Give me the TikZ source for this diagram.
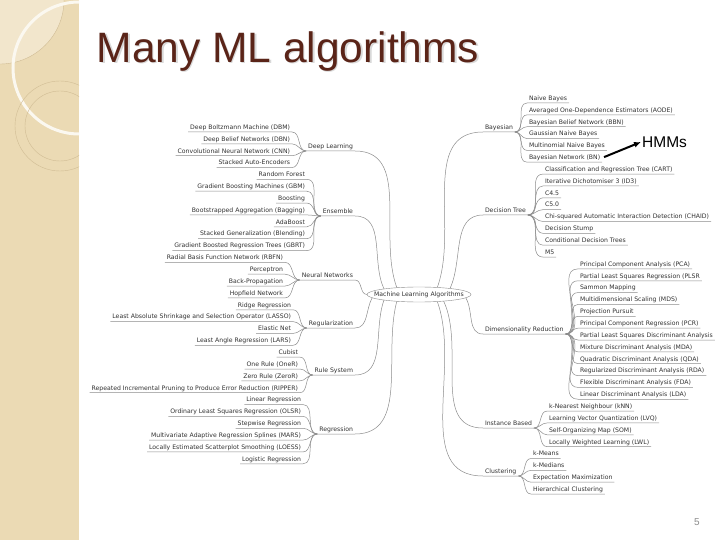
\documentclass[tikz,border=0pt]{standalone}
\usepackage{fontspec}
\setmainfont{DejaVu Sans}
\newfontfamily\slidefont{Liberation Sans}
\usetikzlibrary{arrows.meta,positioning,shapes.geometric}
\definecolor{sidebar}{RGB}{235,218,180}
\definecolor{sidelight}{RGB}{242,230,204}
\definecolor{sideline}{RGB}{208,188,148}
\definecolor{titlebrown}{RGB}{90,36,24}
\definecolor{maptext}{RGB}{50,50,50}
\definecolor{mapline}{RGB}{140,140,140}

\begin{document}
\begin{tikzpicture}[
  x=1pt,y=1pt,
  node distance=3.05pt,
  every node/.style={font=\fontsize{6.15}{7.5}\selectfont,text=maptext},
  leaf/.style={inner xsep=2pt,inner ysep=1.15pt,outer sep=0pt,text height=5pt,text depth=1.5pt},
  branch/.style={leaf},
  link/.style={draw=mapline,line width=0.5pt},
  title/.style={font=\slidefont\fontsize{42.5}{50}\selectfont,text=titlebrown,inner sep=0pt}
]
\useasboundingbox (0,0) rectangle (720,-540);
\fill[white] (0,0) rectangle (720,-540);
\fill[sidebar] (0,0) rectangle (79,-540);
\begin{scope}
  \clip (0,0) rectangle (79,-540);
  \filldraw[fill=sidelight,draw=sideline,line width=0.4pt] (0,0) circle (64);
  \draw[white!70!sidelight,line width=3pt] (79,-68) circle (66);
  \draw[sideline,line width=0.4pt] (60,-126) circle (45);
  \draw[sideline,line width=0.4pt] (60,-126) circle (35);
\end{scope}

% title
\node[title,text=black!15,anchor=base west] at (98,-64) {Many ML algorithms};
\node[title,anchor=base west] (title) at (96.5,-62.5) {Many ML algorithms};

% centre and branches
\node[draw=mapline,ellipse,minimum width=104pt,minimum height=15pt,inner sep=0pt,outer sep=0pt] (ml) at (419,-294.5) {\makebox[50pt]{Machine Learning Algorithms}};

\node[branch,anchor=south east] (dl) at (355,-151) {Deep Learning};
\node[branch,anchor=south east] (en) at (355,-216) {Ensemble};
\node[branch,anchor=south east] (nn) at (355,-280) {Neural Networks};
\node[branch,anchor=south east] (rg) at (355,-328) {Regularization};
\node[branch,anchor=south east] (rs) at (355,-375) {Rule System};
\node[branch,anchor=south east] (re) at (355,-434) {Regression};

\node[branch,anchor=south west] (ba) at (483,-132) {Bayesian};
\node[branch,anchor=south west] (dt) at (483,-215) {Decision Tree};
\node[branch,anchor=south west] (dr) at (483,-334) {Dimensionality Reduction};
\node[branch,anchor=south west] (ib) at (483,-428) {Instance Based};
\node[branch,anchor=south west] (cl) at (483,-476) {Clustering};

% left leaves
\node[leaf,anchor=south east] (dl1) at (292,-132) {Deep Boltzmann Machine (DBM)};
\node[leaf,below=of dl1.south east,anchor=north east] (dl2) {Deep Belief Networks (DBN)};
\node[leaf,below=of dl2.south east,anchor=north east] (dl3) {Convolutional Neural Network (CNN)};
\node[leaf,below=of dl3.south east,anchor=north east] (dl4) {Stacked Auto-Encoders};

\node[leaf,below=of dl4.south east,anchor=north east,xshift=15pt] (en1) {Random Forest};
\node[leaf,below=of en1.south east,anchor=north east] (en2) {Gradient Boosting Machines (GBM)};
\node[leaf,below=of en2.south east,anchor=north east] (en3) {Boosting};
\node[leaf,below=of en3.south east,anchor=north east] (en4) {Bootstrapped Aggregation (Bagging)};
\node[leaf,below=of en4.south east,anchor=north east] (en5) {AdaBoost};
\node[leaf,below=of en5.south east,anchor=north east] (en6) {Stacked Generalization (Blending)};
\node[leaf,below=of en6.south east,anchor=north east] (en7) {Gradient Boosted Regression Trees (GBRT)};

\node[leaf,below=of en7.south east,anchor=north east,xshift=-22pt] (nn1) {Radial Basis Function Network (RBFN)};
\node[leaf,below=of nn1.south east,anchor=north east] (nn2) {Perceptron};
\node[leaf,below=of nn2.south east,anchor=north east] (nn3) {Back-Propagation};
\node[leaf,below=of nn3.south east,anchor=north east] (nn4) {Hopfield Network};

\node[leaf,below=of nn4.south east,anchor=north east,xshift=8pt] (rg1) {Ridge Regression};
\node[leaf,below=of rg1.south east,anchor=north east] (rg2) {Least Absolute Shrinkage and Selection Operator (LASSO)};
\node[leaf,below=of rg2.south east,anchor=north east] (rg3) {Elastic Net};
\node[leaf,below=of rg3.south east,anchor=north east] (rg4) {Least Angle Regression (LARS)};

\node[leaf,below=of rg4.south east,anchor=north east,xshift=7pt] (rs1) {Cubist};
\node[leaf,below=of rs1.south east,anchor=north east] (rs2) {One Rule (OneR)};
\node[leaf,below=of rs2.south east,anchor=north east] (rs3) {Zero Rule (ZeroR)};
\node[leaf,below=of rs3.south east,anchor=north east] (rs4) {Repeated Incremental Pruning to Produce Error Reduction (RIPPER)};

\node[leaf,below=of rs4.south east,anchor=north east,xshift=3pt] (re1) {Linear Regression};
\node[leaf,below=of re1.south east,anchor=north east] (re2) {Ordinary Least Squares Regression (OLSR)};
\node[leaf,below=of re2.south east,anchor=north east] (re3) {Stepwise Regression};
\node[leaf,below=of re3.south east,anchor=north east] (re4) {Multivariate Adaptive Regression Splines (MARS)};
\node[leaf,below=of re4.south east,anchor=north east] (re5) {Locally Estimated Scatterplot Smoothing (LOESS)};
\node[leaf,below=of re5.south east,anchor=north east] (re6) {Logistic Regression};

% right leaves
\node[leaf,anchor=south west] (ba1) at (527,-103) {Naive Bayes};
\node[leaf,below=of ba1.south west,anchor=north west] (ba2) {Averaged One-Dependence Estimators (AODE)};
\node[leaf,below=of ba2.south west,anchor=north west] (ba3) {Bayesian Belief Network (BBN)};
\node[leaf,below=of ba3.south west,anchor=north west] (ba4) {Gaussian Naive Bayes};
\node[leaf,below=of ba4.south west,anchor=north west] (ba5) {Multinomial Naive Bayes};
\node[leaf,below=of ba5.south west,anchor=north west] (ba6) {Bayesian Network (BN)};

\node[leaf,below=of ba6.south west,anchor=north west,xshift=16pt] (dt1) {Classification and Regression Tree (CART)};
\node[leaf,below=of dt1.south west,anchor=north west] (dt2) {Iterative Dichotomiser 3 (ID3)};
\node[leaf,below=of dt2.south west,anchor=north west] (dt3) {C4.5};
\node[leaf,below=of dt3.south west,anchor=north west] (dt4) {C5.0};
\node[leaf,below=of dt4.south west,anchor=north west] (dt5) {Chi-squared Automatic Interaction Detection (CHAID)};
\node[leaf,below=of dt5.south west,anchor=north west] (dt6) {Decision Stump};
\node[leaf,below=of dt6.south west,anchor=north west] (dt7) {Conditional Decision Trees};
\node[leaf,below=of dt7.south west,anchor=north west] (dt8) {M5};

\node[leaf,below=of dt8.south west,anchor=north west,xshift=35pt] (dr1) {Principal Component Analysis (PCA)};
\node[leaf,below=of dr1.south west,anchor=north west] (dr2) {Partial Least Squares Regression (PLSR};
\node[leaf,below=of dr2.south west,anchor=north west] (dr3) {Sammon Mapping};
\node[leaf,below=of dr3.south west,anchor=north west] (dr4) {Multidimensional Scaling (MDS)};
\node[leaf,below=of dr4.south west,anchor=north west] (dr5) {Projection Pursuit};
\node[leaf,below=of dr5.south west,anchor=north west] (dr6) {Principal Component Regression (PCR)};
\node[leaf,below=of dr6.south west,anchor=north west] (dr7) {Partial Least Squares Discriminant Analysis};
\node[leaf,below=of dr7.south west,anchor=north west] (dr8) {Mixture Discriminant Analysis (MDA)};
\node[leaf,below=of dr8.south west,anchor=north west] (dr9) {Quadratic Discriminant Analysis (QDA)};
\node[leaf,below=of dr9.south west,anchor=north west] (dr10) {Regularized Discriminant Analysis (RDA)};
\node[leaf,below=of dr10.south west,anchor=north west] (dr11) {Flexible Discriminant Analysis (FDA)};
\node[leaf,below=of dr11.south west,anchor=north west] (dr12) {Linear Discriminant Analysis (LDA)};

\node[leaf,below=of dr12.south west,anchor=north west,xshift=-31pt] (ib1) {k-Nearest Neighbour (kNN)};
\node[leaf,below=of ib1.south west,anchor=north west] (ib2) {Learning Vector Quantization (LVQ)};
\node[leaf,below=of ib2.south west,anchor=north west] (ib3) {Self-Organizing Map (SOM)};
\node[leaf,below=of ib3.south west,anchor=north west] (ib4) {Locally Weighted Learning (LWL)};

\node[leaf,below=of ib4.south west,anchor=north west,xshift=-16pt] (cl1) {k-Means};
\node[leaf,below=of cl1.south west,anchor=north west] (cl2) {k-Medians};
\node[leaf,below=of cl2.south west,anchor=north west] (cl3) {Expectation Maximization};
\node[leaf,below=of cl3.south west,anchor=north west] (cl4) {Hierarchical Clustering};

% note and page number
\node[font=\slidefont\fontsize{15.5}{18}\selectfont,text=black,anchor=west,inner sep=1pt] (hmm) at (641,-142) {HMMs};
\node[font=\slidefont\fontsize{10}{12}\selectfont,text=black!45] (page) at (697,-522) {5};

% branches to centre
\draw[link] (dl.south west) -- (dl.south east) to[out=0,in=110] (ml.163);
\draw[link] (en.south west) -- (en.south east) to[out=0,in=115] (ml.171);
\draw[link] (nn.south west) -- (nn.south east) to[out=0,in=180] (ml.west);
\draw[link] (rg.south west) -- (rg.south east) to[out=0,in=-120] (ml.184);
\draw[link] (rs.south west) -- (rs.south east) to[out=0,in=-110] (ml.189);
\draw[link] (re.south west) -- (re.south east) to[out=0,in=-105] (ml.197);
\draw[link] (ba.south east) -- (ba.south west) to[out=180,in=70] (ml.21);
\draw[link] (dt.south east) -- (dt.south west) to[out=180,in=65] (ml.11);
\draw[link] (dr.south east) -- (dr.south west) to[out=180,in=-60] (ml.-4);
\draw[link] (ib.south east) -- (ib.south west) to[out=180,in=-65] (ml.-15);
\draw[link] (cl.south east) -- (cl.south west) to[out=180,in=-70] (ml.-21);

% leaves to branches
\draw[link] (dl1.south west) -- (dl1.south east) to[out=0,in=180] (dl.south west);
\draw[link] (dl2.south west) -- (dl2.south east) to[out=0,in=180] (dl.south west);
\draw[link] (dl3.south west) -- (dl3.south east) to[out=0,in=180] (dl.south west);
\draw[link] (dl4.south west) -- (dl4.south east) to[out=0,in=180] (dl.south west);
\draw[link] (en1.south west) -- (en1.south east) to[out=0,in=180] (en.south west);
\draw[link] (en2.south west) -- (en2.south east) to[out=0,in=180] (en.south west);
\draw[link] (en3.south west) -- (en3.south east) to[out=0,in=180] (en.south west);
\draw[link] (en4.south west) -- (en4.south east) to[out=0,in=180] (en.south west);
\draw[link] (en5.south west) -- (en5.south east) to[out=0,in=180] (en.south west);
\draw[link] (en6.south west) -- (en6.south east) to[out=0,in=180] (en.south west);
\draw[link] (en7.south west) -- (en7.south east) to[out=0,in=180] (en.south west);
\draw[link] (nn1.south west) -- (nn1.south east) to[out=0,in=180] (nn.south west);
\draw[link] (nn2.south west) -- (nn2.south east) to[out=0,in=180] (nn.south west);
\draw[link] (nn3.south west) -- (nn3.south east) to[out=0,in=180] (nn.south west);
\draw[link] (nn4.south west) -- (nn4.south east) to[out=0,in=180] (nn.south west);
\draw[link] (rg1.south west) -- (rg1.south east) to[out=0,in=180] (rg.south west);
\draw[link] (rg2.south west) -- (rg2.south east) to[out=0,in=180] (rg.south west);
\draw[link] (rg3.south west) -- (rg3.south east) to[out=0,in=180] (rg.south west);
\draw[link] (rg4.south west) -- (rg4.south east) to[out=0,in=180] (rg.south west);
\draw[link] (rs1.south west) -- (rs1.south east) to[out=0,in=180] (rs.south west);
\draw[link] (rs2.south west) -- (rs2.south east) to[out=0,in=180] (rs.south west);
\draw[link] (rs3.south west) -- (rs3.south east) to[out=0,in=180] (rs.south west);
\draw[link] (rs4.south west) -- (rs4.south east) to[out=0,in=180] (rs.south west);
\draw[link] (re1.south west) -- (re1.south east) to[out=0,in=180] (re.south west);
\draw[link] (re2.south west) -- (re2.south east) to[out=0,in=180] (re.south west);
\draw[link] (re3.south west) -- (re3.south east) to[out=0,in=180] (re.south west);
\draw[link] (re4.south west) -- (re4.south east) to[out=0,in=180] (re.south west);
\draw[link] (re5.south west) -- (re5.south east) to[out=0,in=180] (re.south west);
\draw[link] (re6.south west) -- (re6.south east) to[out=0,in=180] (re.south west);

\draw[link] (ba1.south east) -- (ba1.south west) to[out=180,in=0] (ba.south east);
\draw[link] (ba2.south east) -- (ba2.south west) to[out=180,in=0] (ba.south east);
\draw[link] (ba3.south east) -- (ba3.south west) to[out=180,in=0] (ba.south east);
\draw[link] (ba4.south east) -- (ba4.south west) to[out=180,in=0] (ba.south east);
\draw[link] (ba5.south east) -- (ba5.south west) to[out=180,in=0] (ba.south east);
\draw[link] (ba6.south east) -- (ba6.south west) to[out=180,in=0] (ba.south east);
\draw[link] (dt1.south east) -- (dt1.south west) to[out=180,in=0] (dt.south east);
\draw[link] (dt2.south east) -- (dt2.south west) to[out=180,in=0] (dt.south east);
\draw[link] (dt3.south east) -- (dt3.south west) to[out=180,in=0] (dt.south east);
\draw[link] (dt4.south east) -- (dt4.south west) to[out=180,in=0] (dt.south east);
\draw[link] (dt5.south east) -- (dt5.south west) to[out=180,in=0] (dt.south east);
\draw[link] (dt6.south east) -- (dt6.south west) to[out=180,in=0] (dt.south east);
\draw[link] (dt7.south east) -- (dt7.south west) to[out=180,in=0] (dt.south east);
\draw[link] (dt8.south east) -- (dt8.south west) to[out=180,in=0] (dt.south east);
\draw[link] (dr1.south east) -- (dr1.south west) to[out=180,in=0] (dr.south east);
\draw[link] (dr2.south east) -- (dr2.south west) to[out=180,in=0] (dr.south east);
\draw[link] (dr3.south east) -- (dr3.south west) to[out=180,in=0] (dr.south east);
\draw[link] (dr4.south east) -- (dr4.south west) to[out=180,in=0] (dr.south east);
\draw[link] (dr5.south east) -- (dr5.south west) to[out=180,in=0] (dr.south east);
\draw[link] (dr6.south east) -- (dr6.south west) to[out=180,in=0] (dr.south east);
\draw[link] (dr7.south east) -- (dr7.south west) to[out=180,in=0] (dr.south east);
\draw[link] (dr8.south east) -- (dr8.south west) to[out=180,in=0] (dr.south east);
\draw[link] (dr9.south east) -- (dr9.south west) to[out=180,in=0] (dr.south east);
\draw[link] (dr10.south east) -- (dr10.south west) to[out=180,in=0] (dr.south east);
\draw[link] (dr11.south east) -- (dr11.south west) to[out=180,in=0] (dr.south east);
\draw[link] (dr12.south east) -- (dr12.south west) to[out=180,in=0] (dr.south east);
\draw[link] (ib1.south east) -- (ib1.south west) to[out=180,in=0] (ib.south east);
\draw[link] (ib2.south east) -- (ib2.south west) to[out=180,in=0] (ib.south east);
\draw[link] (ib3.south east) -- (ib3.south west) to[out=180,in=0] (ib.south east);
\draw[link] (ib4.south east) -- (ib4.south west) to[out=180,in=0] (ib.south east);
\draw[link] (cl1.south east) -- (cl1.south west) to[out=180,in=0] (cl.south east);
\draw[link] (cl2.south east) -- (cl2.south west) to[out=180,in=0] (cl.south east);
\draw[link] (cl3.south east) -- (cl3.south west) to[out=180,in=0] (cl.south east);
\draw[link] (cl4.south east) -- (cl4.south west) to[out=180,in=0] (cl.south east);

\draw[-{Latex[length=7pt,width=6pt]},line width=2pt,shorten <=2pt] (ba6.east) -- (hmm.west);
\end{tikzpicture}
\end{document}
